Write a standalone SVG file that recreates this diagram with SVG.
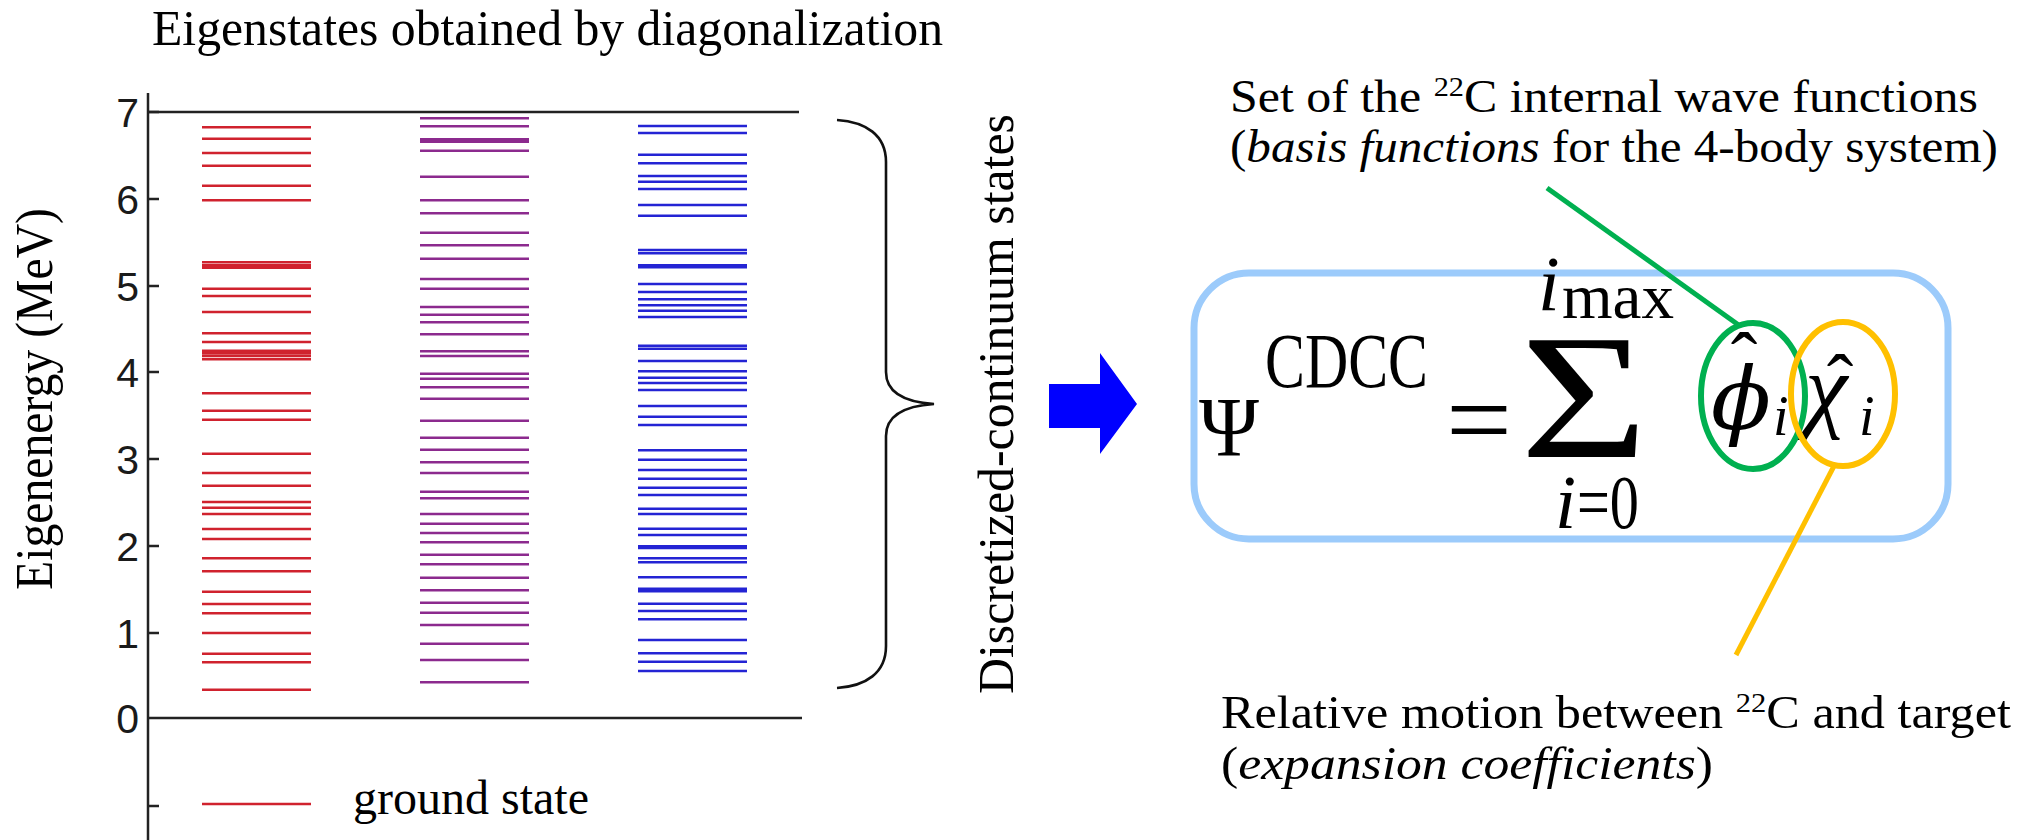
<svg xmlns="http://www.w3.org/2000/svg" width="2035" height="840" viewBox="0 0 2035 840">
<defs>
<style>
.serif{font-family:"Liberation Serif","Times New Roman",serif;fill:#000}
.dv{font-family:"DejaVu Serif","Liberation Serif",serif;fill:#000}
.sans{font-family:"Liberation Sans",Arial,sans-serif;fill:#1a1a1a}
.ax{stroke:#222;stroke-width:2.5;fill:none}
.red{stroke:#d0222e;stroke-width:2.6;fill:none}
.pur{stroke:#8c2a8e;stroke-width:2.6;fill:none}
.blu{stroke:#2424d4;stroke-width:2.6;fill:none}
.it{font-style:italic}
</style>
</defs>
<rect width="2035" height="840" fill="#fff"/>

<g id="title">
<text class="serif" x="152" y="45" font-size="50" textLength="791" lengthAdjust="spacingAndGlyphs">Eigenstates obtained by diagonalization</text>
</g>

<g id="axes">
<line class="ax" x1="148" y1="93" x2="148" y2="840"/>
<line class="ax" x1="148" y1="112" x2="799" y2="112"/>
<line class="ax" x1="148" y1="718" x2="802" y2="718"/>
<path class="ax" d="M148 112H159M148 199H159M148 286H159M148 372H159M148 459H159M148 546H159M148 633H159M148 806H159"/>
<g class="sans" font-size="41" text-anchor="end">
<text x="139" y="127">7</text>
<text x="139" y="214">6</text>
<text x="139" y="301">5</text>
<text x="139" y="387">4</text>
<text x="139" y="474">3</text>
<text x="139" y="561">2</text>
<text x="139" y="648">1</text>
<text x="139" y="733">0</text>
</g>
<text class="serif" font-size="52" text-anchor="middle" textLength="382" lengthAdjust="spacingAndGlyphs" transform="translate(52 399) rotate(-90)">Eigenenergy (MeV)</text>
</g>

<g id="levels-red">
<path class="red" d="M202 127.3H311M202 138.7H311M202 153H311M202 165.7H311M202 185.7H311M202 200.3H311M202 262.3H311M202 265.3H311M202 267.7H311M202 288.7H311M202 296H311M202 312H311M202 333.3H311M202 342H311M202 350.7H311M202 353.3H311M202 356H311M202 359.3H311M202 393.3H311M202 410.7H311M202 419.7H311M202 453.7H311M202 473H311M202 485.7H311M202 502H311M202 507.7H311M202 514H311M202 529H311M202 539H311M202 558.3H311M202 571.3H311M202 591.7H311M202 604H311M202 613.3H311M202 633H311M202 653.7H311M202 662.3H311M202 689.7H311"/>
</g>

<g id="levels-purple">
<path class="pur" d="M420 118.3H529M420 126.3H529M420 139.3H529M420 141.8H529M420 150.7H529M420 176.7H529M420 200.3H529M420 213.3H529M420 232.7H529M420 245.3H529M420 258.7H529M420 279H529M420 288.7H529M420 307H529M420 314.7H529M420 322.3H529M420 334.3H529M420 351.3H529M420 356H529M420 373.7H529M420 378.7H529M420 387.3H529M420 398.7H529M420 420.7H529M420 437.7H529M420 449.7H529M420 462.3H529M420 473H529M420 491.7H529M420 498.3H529M420 514H529M420 523.7H529M420 533H529M420 542.3H529M420 554.7H529M420 564.3H529M420 577.7H529M420 590.3H529M420 602.7H529M420 612.7H529M420 625H529M420 643.7H529M420 660H529M420 682.3H529"/>
</g>

<g id="levels-blue">
<path class="blu" d="M638 126H747M638 133H747M638 154.7H747M638 163.3H747M638 176H747M638 181.7H747M638 189H747M638 205H747M638 215.7H747M638 250H747M638 253.3H747M638 265.3H747M638 267.3H747M638 284H747M638 292H747M638 299.3H747M638 305.3H747M638 310.7H747M638 317H747M638 345.7H747M638 348.7H747M638 361H747M638 371.3H747M638 377.7H747M638 383H747M638 390H747M638 406H747M638 416.7H747M638 425H747M638 450.3H747M638 459.7H747M638 470H747M638 478.7H747M638 487.7H747M638 495H747M638 508.7H747M638 514H747M638 528.7H747M638 535H747M638 546.2H747M638 548H747M638 558.3H747M638 562.3H747M638 577.3H747M638 588.7H747M638 591.3H747M638 603.7H747M638 611H747M638 619.3H747M638 640H747M638 653.3H747M638 661.7H747M638 671H747"/>
</g>

<g id="legend">
<line class="red" x1="202" y1="804" x2="311" y2="804"/>
<text class="serif" x="353" y="814" font-size="48">ground state</text>
</g>

<g id="brace">
<path d="M837 120C866 122 886 135 886 162L886 372C886 392 904 402 934 404C904 406 886 416 886 436L886 646C886 673 866 686 837 688" fill="none" stroke="#111" stroke-width="2.6"/>
<text class="serif" font-size="50" text-anchor="middle" textLength="580" lengthAdjust="spacingAndGlyphs" transform="translate(1013 404) rotate(-90)">Discretized-continuum states</text>
</g>

<g id="arrow">
<polygon points="1049,384 1100,384 1100,353 1137,404 1100,454 1100,428 1049,428" fill="#0000ff"/>
</g>

<g id="formula">
<rect x="1194" y="273" width="754" height="266" rx="55" ry="55" fill="#fff" stroke="#9ccbfb" stroke-width="7"/>
<g class="serif">
<text x="1199" y="456" font-size="84" textLength="60" lengthAdjust="spacingAndGlyphs">Ψ</text>
<text x="1265" y="387" font-size="78" textLength="163" lengthAdjust="spacingAndGlyphs">CDCC</text>
<text x="1446" y="457" font-size="112" textLength="66" lengthAdjust="spacingAndGlyphs">=</text>
<text x="1520" y="457" font-size="177" textLength="128" lengthAdjust="spacingAndGlyphs">Σ</text>
<text class="it" x="1538" y="310" font-size="78">i</text>
<text x="1562" y="318" font-size="64" textLength="112" lengthAdjust="spacingAndGlyphs">max</text>
<text class="it" x="1555" y="528" font-size="76">i</text>
<text x="1577" y="528" font-size="76" textLength="62" lengthAdjust="spacingAndGlyphs">=0</text>
<text class="dv it" x="1711" y="429" font-size="86" textLength="60" lengthAdjust="spacingAndGlyphs">ϕ</text>
<text x="1744" y="388" font-size="80" text-anchor="middle">ˆ</text>
<text class="it" x="1773" y="435" font-size="56">i</text>
<text class="it" x="1805" y="420" font-size="96">χ</text>
<text x="1840" y="410" font-size="80" text-anchor="middle">ˆ</text>
<text class="it" x="1859" y="435" font-size="56">i</text>
</g>
<ellipse cx="1753" cy="396" rx="52" ry="73" fill="none" stroke="#00b050" stroke-width="6"/>
<ellipse cx="1843" cy="394" rx="52" ry="72" fill="none" stroke="#ffc000" stroke-width="6"/>
</g>

<g id="connectors">
<line x1="1547" y1="188" x2="1740" y2="326" stroke="#00b050" stroke-width="5"/>
<line x1="1834" y1="466" x2="1736" y2="655" stroke="#ffc000" stroke-width="5"/>
</g>

<g id="label-basis">
<text class="serif" x="1230" y="112" font-size="46" textLength="748" lengthAdjust="spacingAndGlyphs">Set of the <tspan font-size="28" dy="-16">22</tspan><tspan dy="16">C internal wave functions</tspan></text>
<text class="serif" x="1230" y="162" font-size="46" textLength="768" lengthAdjust="spacingAndGlyphs">(<tspan class="it">basis functions</tspan> for the 4-body system)</text>
</g>

<g id="label-expansion">
<text class="serif" x="1221" y="728" font-size="46" textLength="790" lengthAdjust="spacingAndGlyphs">Relative motion between <tspan font-size="28" dy="-16">22</tspan><tspan dy="16">C and target</tspan></text>
<text class="serif" x="1221" y="779" font-size="46" textLength="492" lengthAdjust="spacingAndGlyphs">(<tspan class="it">expansion coefficients</tspan>)</text>
</g>
</svg>
